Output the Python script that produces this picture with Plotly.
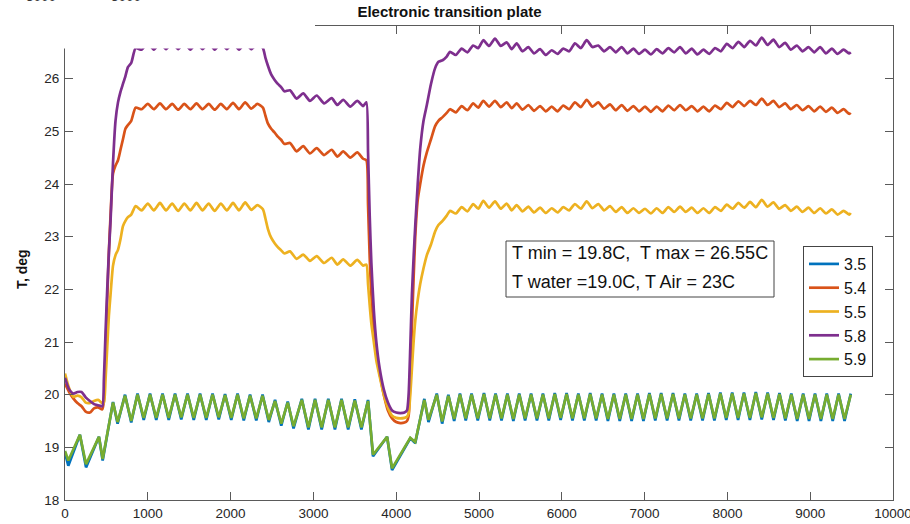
import plotly.graph_objects as go

# ---------------- data ----------------
# time samples shared by the two cool-side probes (3.5 and 5.9)
t_cool = [
    0, 40, 180, 254, 410, 455, 580, 635, 725, 800,
    876, 951, 1027, 1102, 1178, 1253, 1329, 1404, 1480, 1555,
    1631, 1706, 1782, 1857, 1933, 2008, 2084, 2159, 2235, 2310,
    2386, 2461, 2537, 2612,
    2690, 2760, 2860, 2940, 3020, 3100, 3180, 3260, 3340, 3420, 3500, 3580, 3660,
    3720, 3890, 3950, 4170, 4230, 4340, 4390, 4490, 4555,
    4630, 4700, 4770, 4840, 4910, 4985, 5060, 5130, 5200, 5272,
    5343, 5415, 5486, 5557, 5629, 5700, 5772, 5843, 5915, 5986,
    6058, 6129, 6200, 6272, 6343, 6415, 6486, 6557, 6629, 6700,
    6772, 6843, 6915, 6986, 7058, 7129, 7200, 7272, 7343, 7415,
    7486, 7557, 7629, 7700, 7772, 7843, 7915, 7986, 8058, 8129,
    8200, 8272, 8343, 8415, 8486, 8557, 8629, 8700, 8772, 8843,
    8915, 8986, 9058, 9129, 9200, 9272, 9343, 9415, 9490,
]

T_35 = [
    18.90, 18.65, 19.24, 18.62, 19.20, 18.75, 19.86, 19.45, 20.00, 19.47,
    20.02, 19.52, 20.02, 19.52, 20.02, 19.52, 20.02, 19.53, 20.02, 19.52,
    20.02, 19.52, 20.02, 19.53, 20.01, 19.52, 20.02, 19.51, 20.00, 19.51,
    20.00, 19.48, 19.90, 19.41,
    19.87, 19.36, 19.92, 19.34, 19.92, 19.34, 19.92, 19.34, 19.92, 19.34, 19.91, 19.34, 19.90,
    18.83, 19.20, 18.57, 19.17, 19.08, 19.92, 19.48, 20.02, 19.45,
    20.00, 19.50, 20.02, 19.51, 20.02, 19.51, 20.03, 19.51, 20.02, 19.51,
    20.02, 19.50, 20.02, 19.51, 20.02, 19.51, 20.02, 19.51, 20.03, 19.52,
    20.03, 19.51, 20.02, 19.51, 20.03, 19.51, 20.02, 19.50, 20.02, 19.50,
    20.02, 19.50, 20.02, 19.50, 20.03, 19.51, 20.03, 19.51, 20.03, 19.51,
    20.02, 19.51, 20.02, 19.51, 20.03, 19.51, 20.04, 19.52, 20.04, 19.52,
    20.04, 19.52, 20.05, 19.53, 20.04, 19.52, 20.03, 19.51, 20.02, 19.50,
    20.02, 19.50, 20.02, 19.50, 20.02, 19.50, 20.02, 19.50, 20.02,
]

T_59 = [
    18.93, 18.75, 19.24, 18.68, 19.20, 18.78, 19.85, 19.48, 19.98, 19.50,
    20.00, 19.56, 20.00, 19.56, 20.00, 19.56, 20.00, 19.57, 20.00, 19.56,
    20.00, 19.56, 20.00, 19.57, 19.99, 19.56, 20.00, 19.55, 19.98, 19.55,
    19.98, 19.52, 19.88, 19.45,
    19.85, 19.40, 19.90, 19.38, 19.90, 19.38, 19.90, 19.38, 19.90, 19.38, 19.89, 19.38, 19.88,
    18.86, 19.20, 18.60, 19.18, 19.10, 19.90, 19.52, 20.00, 19.49,
    19.98, 19.54, 20.00, 19.55, 20.00, 19.55, 20.01, 19.55, 20.00, 19.55,
    20.00, 19.54, 20.00, 19.55, 20.00, 19.55, 20.00, 19.55, 20.01, 19.56,
    20.01, 19.55, 20.00, 19.55, 20.01, 19.55, 20.00, 19.54, 20.00, 19.54,
    20.00, 19.54, 20.00, 19.54, 20.01, 19.55, 20.01, 19.55, 20.01, 19.55,
    20.00, 19.55, 20.00, 19.55, 20.01, 19.55, 20.02, 19.56, 20.02, 19.56,
    20.02, 19.56, 20.03, 19.57, 20.02, 19.56, 20.01, 19.55, 20.00, 19.54,
    20.00, 19.54, 20.00, 19.54, 20.00, 19.54, 20.00, 19.54, 20.00,
]

# time samples shared by the three hot-side probes (5.4, 5.5, 5.8)
t_hot = [
    0, 50, 100, 150, 200, 250, 300, 350, 400, 450, 470, 490, 510, 530, 550, 580, 610, 640, 670, 700, 730, 760, 800, 853,
    926, 1000, 1073, 1147, 1220, 1294, 1367, 1441, 1514, 1588, 1661, 1735, 1808, 1882, 1955, 2029, 2102, 2176, 2249, 2323, 2390,
    2420, 2450, 2490, 2530, 2570, 2610, 2650,
    2717, 2797, 2877, 2958, 3040, 3130, 3220, 3290, 3360, 3445, 3530, 3600, 3640,
    3660, 3680, 3700, 3730, 3760, 3800, 3850, 3900, 3950, 4000, 4050, 4100, 4130, 4150, 4170, 4190, 4210, 4230, 4260, 4290,
    4330, 4370, 4420, 4470, 4510, 4560, 4610,
    4650, 4720, 4790, 4860, 4930, 4991, 5052, 5122, 5193, 5263,
    5334, 5395, 5455, 5525, 5596, 5666, 5737, 5807, 5878, 5948,
    6018, 6088, 6159, 6230, 6300, 6370, 6441, 6511, 6582, 6652,
    6723, 6793, 6864, 6934, 7005, 7075, 7146, 7216, 7287, 7357,
    7428, 7498, 7569, 7639, 7710, 7780, 7851, 7921, 7992, 8062,
    8133, 8203, 8274, 8344, 8415, 8485, 8556, 8626, 8697, 8767,
    8838, 8908, 8979, 9049, 9120, 9190, 9261, 9331, 9402, 9472,
    9490,
]

T_54 = [
    20.21, 20.05, 19.93, 19.84, 19.78, 19.68, 19.66, 19.74, 19.76, 19.72, 19.90, 20.80, 21.80, 22.70, 23.40, 24.20, 24.35, 24.45, 24.65, 24.85, 25.05, 25.12, 25.20, 25.45,
    25.42, 25.52, 25.42, 25.53, 25.42, 25.52, 25.41, 25.52, 25.42, 25.53, 25.42, 25.52, 25.41, 25.52, 25.42, 25.54, 25.42, 25.55, 25.43, 25.52, 25.45,
    25.30, 25.15, 25.05, 24.98, 24.90, 24.84, 24.76,
    24.78, 24.62, 24.72, 24.58, 24.68, 24.55, 24.65, 24.52, 24.62, 24.50, 24.60, 24.48, 24.45,
    23.60, 22.60, 21.90, 21.20, 20.75, 20.40, 20.00, 19.70, 19.55, 19.48, 19.46, 19.47, 19.50, 19.60, 20.30, 21.30, 22.20, 23.00, 23.70, 24.00,
    24.35, 24.60, 24.85, 25.10, 25.20, 25.27, 25.35,
    25.42, 25.36, 25.48, 25.40, 25.53, 25.45, 25.58, 25.47, 25.58, 25.46,
    25.55, 25.44, 25.53, 25.41, 25.50, 25.39, 25.48, 25.38, 25.47, 25.38,
    25.49, 25.42, 25.55, 25.46, 25.60, 25.47, 25.55, 25.43, 25.51, 25.40,
    25.50, 25.39, 25.48, 25.38, 25.47, 25.37, 25.47, 25.38, 25.49, 25.40,
    25.50, 25.40, 25.48, 25.38, 25.47, 25.38, 25.49, 25.42, 25.54, 25.46,
    25.57, 25.48, 25.58, 25.50, 25.62, 25.50, 25.58, 25.46, 25.53, 25.42,
    25.50, 25.40, 25.48, 25.38, 25.47, 25.37, 25.45, 25.35, 25.42, 25.33,
    25.35,
]

T_55 = [
    20.40, 20.12, 19.96, 19.98, 19.95, 19.85, 19.84, 19.88, 19.90, 19.84, 19.85, 20.30, 20.90, 21.50, 21.90, 22.45, 22.65, 22.75, 22.95, 23.20, 23.30, 23.37, 23.42, 23.58,
    23.50, 23.63, 23.50, 23.64, 23.50, 23.63, 23.49, 23.63, 23.50, 23.64, 23.50, 23.63, 23.49, 23.63, 23.50, 23.64, 23.50, 23.65, 23.51, 23.60, 23.52,
    23.35, 23.15, 22.98, 22.88, 22.80, 22.74, 22.68,
    22.72, 22.58, 22.66, 22.54, 22.63, 22.50, 22.60, 22.47, 22.57, 22.45, 22.56, 22.45, 22.47,
    22.10, 21.70, 21.35, 21.00, 20.65, 20.35, 20.00, 19.75, 19.60, 19.56, 19.55, 19.56, 19.58, 19.65, 20.00, 20.50, 21.00, 21.40, 21.80, 22.10,
    22.40, 22.65, 22.85, 23.10, 23.22, 23.30, 23.40,
    23.49, 23.44, 23.56, 23.48, 23.62, 23.53, 23.68, 23.55, 23.67, 23.53,
    23.63, 23.50, 23.60, 23.48, 23.57, 23.46, 23.55, 23.45, 23.54, 23.46,
    23.56, 23.50, 23.62, 23.53, 23.67, 23.54, 23.62, 23.50, 23.58, 23.47,
    23.56, 23.45, 23.54, 23.45, 23.53, 23.44, 23.54, 23.45, 23.56, 23.47,
    23.57, 23.47, 23.55, 23.45, 23.54, 23.45, 23.56, 23.49, 23.61, 23.53,
    23.64, 23.55, 23.66, 23.56, 23.70, 23.57, 23.65, 23.53, 23.60, 23.49,
    23.57, 23.47, 23.55, 23.45, 23.54, 23.44, 23.52, 23.42, 23.49, 23.42,
    23.45,
]

T_58 = [
    20.32, 20.10, 20.02, 20.05, 20.05, 19.95, 19.88, 19.82, 19.80, 19.78, 20.30, 21.20, 22.00, 22.70, 23.30, 24.40, 25.20, 25.55, 25.75, 25.90, 26.05, 26.22, 26.30, 26.58,
    26.55, 26.68, 26.55, 26.68, 26.56, 26.69, 26.56, 26.68, 26.55, 26.68, 26.56, 26.69, 26.55, 26.68, 26.56, 26.68, 26.55, 26.68, 26.56, 26.66, 26.58,
    26.40, 26.25, 26.08, 25.98, 25.90, 25.84, 25.76,
    25.78, 25.62, 25.72, 25.58, 25.68, 25.53, 25.63, 25.50, 25.60, 25.47, 25.58, 25.48, 25.55,
    24.60, 23.40, 22.50, 21.60, 21.00, 20.50, 20.10, 19.85, 19.70, 19.66, 19.65, 19.66, 19.70, 20.00, 20.90, 21.90, 22.60, 23.20, 24.00, 24.67,
    25.20, 25.50, 25.90, 26.20, 26.32, 26.35, 26.42,
    26.51, 26.45, 26.57, 26.50, 26.63, 26.58, 26.73, 26.62, 26.76, 26.62,
    26.69, 26.56, 26.67, 26.52, 26.60, 26.48, 26.56, 26.45, 26.54, 26.47,
    26.57, 26.52, 26.67, 26.58, 26.73, 26.60, 26.63, 26.52, 26.60, 26.50,
    26.60, 26.48, 26.57, 26.47, 26.55, 26.46, 26.56, 26.48, 26.58, 26.50,
    26.60, 26.48, 26.57, 26.46, 26.55, 26.47, 26.58, 26.52, 26.66, 26.58,
    26.70, 26.60, 26.72, 26.63, 26.78, 26.64, 26.74, 26.60, 26.68, 26.55,
    26.63, 26.52, 26.60, 26.50, 26.60, 26.48, 26.57, 26.47, 26.55, 26.48,
    26.50,
]

x_ticks = [0, 1000, 2000, 3000, 4000, 5000, 6000, 7000, 8000, 9000, 10000]
y_ticks = [18, 19, 20, 21, 22, 23, 24, 25, 26, 27]

for name, vals, ts in [("3.5", T_35, t_cool), ("5.9", T_59, t_cool),
                       ("5.4", T_54, t_hot), ("5.5", T_55, t_hot), ("5.8", T_58, t_hot)]:
    assert len(vals) == len(ts), (name, len(vals), len(ts))

# (legend label, values, time base, colour, smooth?)
series = [
    ("3.5", T_35, t_cool, "#0072BD", False),
    ("5.4", T_54, t_hot, "#D95319", True),
    ("5.5", T_55, t_hot, "#EDB120", True),
    ("5.8", T_58, t_hot, "#7E2F8E", True),
    ("5.9", T_59, t_cool, "#77AC30", False),
]

FONT = "Liberation Sans, Arial, Helvetica, sans-serif"
W, H = 910, 524
ML, MR, MT, MB = 65, 17, 26, 24
PW, PH = W - ML - MR, H - MT - MB


def px_x(px):
    return (px - ML) / PW


def px_y(py):
    return (H - MB - py) / PH


fig = go.Figure()
for label, vals, ts, color, smooth in series:
    line = dict(color=color, width=2.7)
    if smooth:
        line.update(shape="spline", smoothing=0.6)
    fig.add_trace(go.Scatter(x=ts, y=vals, mode="lines", name=label, line=line))

axis_common = dict(
    showgrid=False, zeroline=False, showline=True, linecolor="#5a5a5a", linewidth=1,
    mirror="ticks", ticks="inside", ticklen=8, tickwidth=1, tickcolor="#5a5a5a",
    tickfont=dict(family=FONT, size=13.5, color="#262626"),
    ticklabeloverflow="allow", automargin=False,
)

fig.update_layout(
    width=W, height=H,
    margin=dict(l=ML, r=MR, t=MT, b=MB, pad=0, autoexpand=False),
    paper_bgcolor="white", plot_bgcolor="white",
    font=dict(family=FONT, color="#262626"),
    title=dict(text="<b>Electronic transition plate</b>", x=px_x(449.5), xref="paper",
               y=1 - 12 / H, yref="container", xanchor="center", yanchor="middle",
               font=dict(family=FONT, size=15, color="#111111")),
    xaxis=dict(range=[0, 10000], tickvals=x_ticks, tickformat="d",
               ticklabelstandoff=1, **axis_common),
    yaxis=dict(range=[18, 27], tickvals=y_ticks, tickformat="d", ticklabelstandoff=2,
               **axis_common),
    legend=dict(x=px_x(803), y=px_y(246), xanchor="left", yanchor="top",
                bgcolor="white", bordercolor="#444444", borderwidth=1,
                font=dict(family=FONT, size=16, color="#111111"),
                tracegroupgap=0, itemwidth=30),
    showlegend=True,
)

# y-axis caption
fig.add_annotation(x=px_x(22), y=px_y(269), xref="paper", yref="paper",
                   text="<b>T, deg</b>", textangle=-90, showarrow=False,
                   xanchor="center", yanchor="middle",
                   font=dict(family=FONT, size=14, color="#111111"))

# white band hiding the top-left corner of the frame
fig.add_shape(type="rect", xref="paper", yref="paper",
              x0=-0.2, x1=px_x(315), y0=px_y(48.5), y1=1.2,
              fillcolor="white", line=dict(width=0), layer="above")

# stray tick labels peeking in along the top edge
for cx in (41, 126):
    fig.add_annotation(x=px_x(cx), y=px_y(6), xref="paper", yref="paper",
                       text="3000", showarrow=False, xanchor="center", yanchor="bottom",
                       font=dict(family=FONT, size=13.5, color="#333333"))

# text box with the temperature summary
fig.add_shape(type="rect", xref="paper", yref="paper",
              x0=px_x(506), x1=px_x(774), y0=px_y(297), y1=px_y(241),
              fillcolor="white", line=dict(color="#444444", width=1), layer="above")
fig.add_annotation(x=px_x(510), y=px_y(253), xref="paper", yref="paper",
                   text="T min = 19.8C,\u00a0 T max = 26.55C", showarrow=False,
                   xanchor="left", yanchor="middle",
                   font=dict(family=FONT, size=18, color="#111111"))
fig.add_annotation(x=px_x(510), y=px_y(282), xref="paper", yref="paper",
                   text="T water =19.0C, T Air = 23C", showarrow=False,
                   xanchor="left", yanchor="middle",
                   font=dict(family=FONT, size=18, color="#111111"))

fig.write_html("out.html")
